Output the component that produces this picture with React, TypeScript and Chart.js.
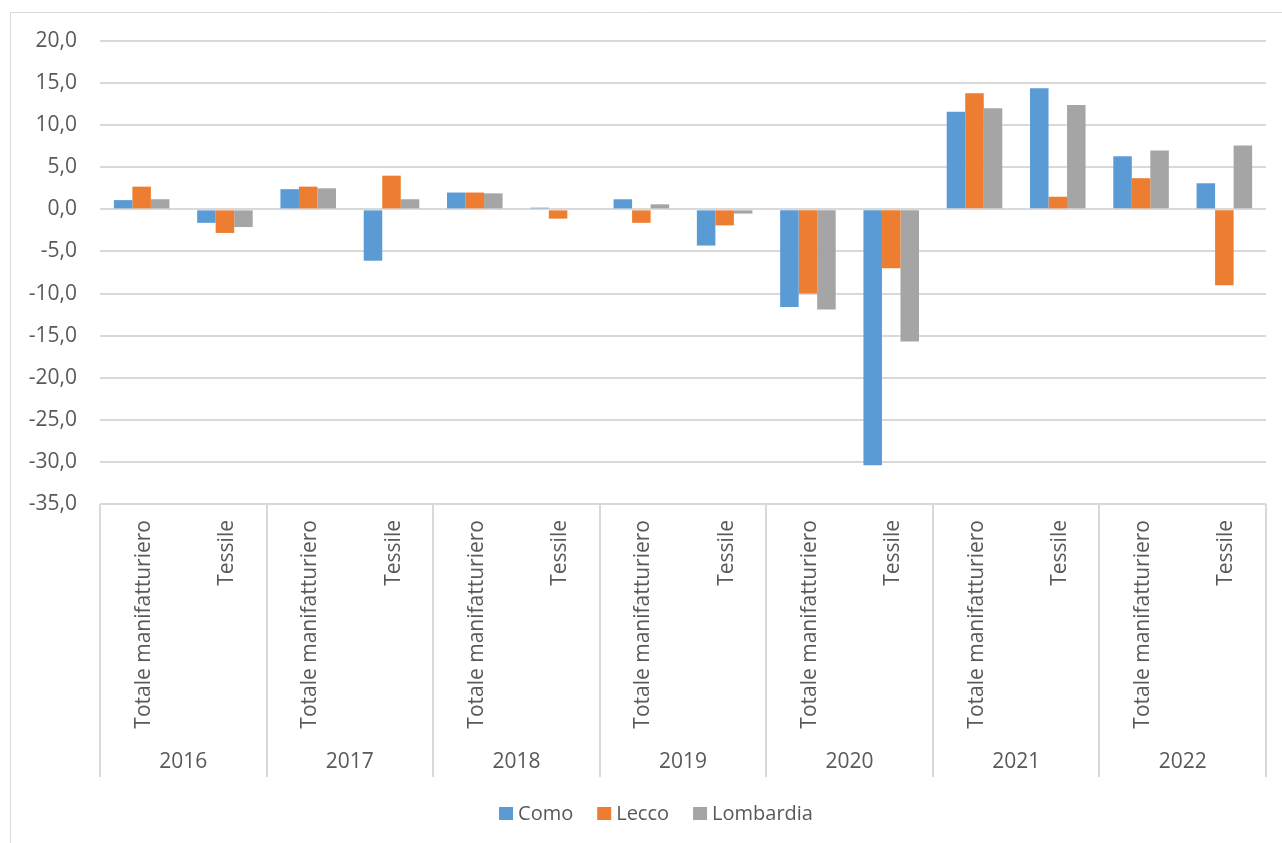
import React, { useEffect, useRef } from "react";
import { Chart, registerables } from "chart.js";

Chart.register(...registerables);

const years = ["2016", "2017", "2018", "2019", "2020", "2021", "2022"];
const sectors = ["Totale manifatturiero", "Tessile"];
const categories = years.flatMap((y) => sectors.map((s) => `${y} ${s}`));

const como = [1.1, -1.6, 2.4, -6.1, 2.0, 0.2, 1.2, -4.3, -11.6, -30.4, 11.6, 14.4, 6.3, 3.1];
const lecco = [2.7, -2.8, 2.7, 4.0, 2.0, -1.1, -1.6, -1.9, -10.0, -7.0, 13.8, 1.5, 3.7, -9.0];
const lombardia = [1.2, -2.1, 2.5, 1.2, 1.9, 0.0, 0.6, -0.5, -11.9, -15.7, 12.0, 12.4, 7.0, 7.6];

const seriesNames = ["Como", "Lecco", "Lombardia"];
const seriesColors = ["#5b9bd5", "#ed7d31", "#a5a5a5"];

const yMin = -35;
const yMax = 20;
const yStep = 5;

const FONT = '"Open Sans", "Noto Sans", sans-serif';
const TEXT = "#595959";
const LINE = "#d9d9d9";

const decorPlugin = {
  id: "decor",
  afterDraw(chart: any) {
    const { ctx, chartArea } = chart;
    const x = chart.scales.x;
    ctx.save();
    // outer border
    ctx.strokeStyle = LINE;
    ctx.lineWidth = 1;
    ctx.beginPath();
    ctx.moveTo(10.5, 843);
    ctx.lineTo(10.5, 12.5);
    ctx.lineTo(1282, 12.5);
    ctx.stroke();

    const bottom = chartArea.bottom;
    const cw = x.getPixelForValue(1) - x.getPixelForValue(0);

    // axis line
    ctx.lineWidth = 2;
    ctx.beginPath();
    ctx.moveTo(chartArea.left, bottom);
    ctx.lineTo(chartArea.right, bottom);
    ctx.stroke();

    // group separators
    for (let k = 0; k <= years.length; k++) {
      const xb =
        k < years.length
          ? x.getPixelForValue(2 * k) - cw / 2
          : x.getPixelForValue(2 * k - 1) + cw / 2;
      ctx.beginPath();
      ctx.moveTo(Math.round(xb), bottom);
      ctx.lineTo(Math.round(xb), 777);
      ctx.stroke();
    }

    // sector labels (rotated)
    ctx.fillStyle = TEXT;
    ctx.font = `21px ${FONT}`;
    for (let i = 0; i < categories.length; i++) {
      const cx = x.getPixelForValue(i);
      ctx.save();
      ctx.translate(cx + 8, bottom + 16);
      ctx.rotate(-Math.PI / 2);
      ctx.textAlign = "right";
      ctx.textBaseline = "alphabetic";
      ctx.fillText(sectors[i % sectors.length], 0, 0);
      ctx.restore();
    }

    // year labels
    ctx.textAlign = "center";
    ctx.textBaseline = "middle";
    for (let k = 0; k < years.length; k++) {
      const cx = (x.getPixelForValue(2 * k) + x.getPixelForValue(2 * k + 1)) / 2;
      ctx.fillText(years[k], cx, 762);
    }

    // legend
    ctx.font = `20px ${FONT}`;
    ctx.textAlign = "left";
    const box = 14;
    const gap = 5;
    const itemGap = 24;
    const ds = chart.data.datasets;
    let total = 0;
    ds.forEach((d: any, i: number) => {
      total += box + gap + ctx.measureText(d.label).width + (i < ds.length - 1 ? itemGap : 0);
    });
    let lx = 656 - total / 2;
    const ly = 814;
    ds.forEach((d: any) => {
      ctx.fillStyle = d.backgroundColor;
      ctx.fillRect(lx, ly - box / 2, box, box - 1);
      lx += box + gap;
      ctx.fillStyle = TEXT;
      ctx.fillText(d.label, lx, ly);
      lx += ctx.measureText(d.label).width + itemGap;
    });
    ctx.restore();
  },
};

export default function App() {
  const ref = useRef<HTMLCanvasElement>(null);

  useEffect(() => {
    if (!ref.current) return;
    const seriesData = [como, lecco, lombardia];
    const chart = new Chart(ref.current, {
      type: "bar",
      data: {
        labels: categories,
        datasets: seriesData.map((d, i) => ({
          label: seriesNames[i],
          data: d,
          backgroundColor: seriesColors[i],
          borderWidth: 0,
          categoryPercentage: 0.667,
          barPercentage: 1.0,
        })),
      },
      options: {
        responsive: false,
        animation: false,
        devicePixelRatio: 1,
        layout: { padding: { top: 41, right: 16, bottom: 339, left: 0 } },
        plugins: {
          legend: { display: false },
          tooltip: { enabled: false },
        },
        scales: {
          x: {
            display: false,
            grid: { display: false },
          },
          y: {
            min: yMin,
            max: yMax,
            afterFit(scale: any) {
              scale.width = 100;
            },
            ticks: {
              stepSize: yStep,
              padding: 23,
              color: TEXT,
              font: { family: FONT, size: 21 },
              callback: (v: any) => Number(v).toFixed(1).replace(".", ","),
            },
            grid: {
              color: LINE,
              lineWidth: 2,
              drawTicks: false,
            },
            border: { display: false },
          },
        },
      },
      plugins: [decorPlugin],
    });
    const fonts: any = (document as any).fonts;
    if (fonts && fonts.load) {
      fonts.load(`21px "Open Sans"`).then(() => chart.update()).catch(() => {});
    }
    return () => chart.destroy();
  }, []);

  return (
    <div style={{ position: "absolute", left: 0, top: 0, width: 1282, height: 843, background: "#fff", overflow: "hidden" }}>
      <canvas ref={ref} width={1282} height={843} style={{ display: "block" }} />
    </div>
  );
}
